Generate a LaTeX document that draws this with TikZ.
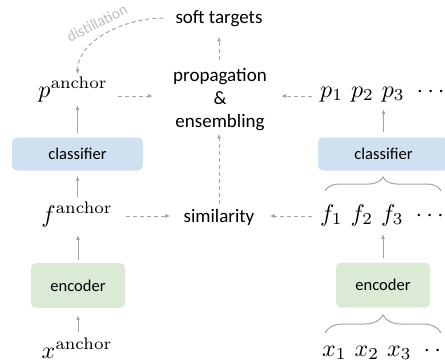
\documentclass[tikz,border=0pt]{standalone}
\usepackage[no-math]{fontspec}
\usepackage{graphicx}
\newfontfamily\carlito{Carlito}
\usetikzlibrary{arrows.meta,decorations.pathreplacing}
\definecolor{arrgray}{RGB}{163,163,163}
\definecolor{clsblue}{RGB}{207,224,241}
\definecolor{encgreen}{RGB}{218,234,212}
\definecolor{distgray}{RGB}{190,190,190}
\newcommand{\mybigmath}[1]{\scalebox{2.4}{$#1$}}
\begin{document}
\begin{tikzpicture}[x=1pt,y=-1pt,
  lbl/.style={font=\carlito\fontsize{19}{23}\selectfont, inner sep=2pt},
  boxlbl/.style={font=\carlito\fontsize{16.5}{20}\selectfont, rounded corners=5pt, inner sep=0pt},
  clsbox/.style={boxlbl, fill=clsblue, minimum width=131pt, minimum height=33pt},
  encbox/.style={boxlbl, fill=encgreen, minimum width=94pt, minimum height=45pt},
  mth/.style={inner sep=2pt, anchor=base},
  arr/.style={draw=arrgray, line width=1pt, -{Latex[length=5pt,width=4pt]}},
  darr/.style={arr, dash pattern=on 4pt off 3pt},
  brc/.style={draw=arrgray, line width=1pt, decorate, decoration={brace, amplitude=#1}},
]
\useasboundingbox (0,0) rectangle (445,362);

% middle column
\node[lbl, anchor=base] (soft) at (219,23) {soft targets};
\node[lbl, align=center] (prop) at (220,100) {propagation\\\&\\ensembling};
\node[lbl, anchor=base] (sim) at (219,222) {similarity};

% left column
\node[mth] (pA) at (73,97) {\mybigmath{p^{\mathrm{anchor}}}};
\node[clsbox] (clsL) at (77.5,154) {classifier};
\node[mth] (fA) at (77,222) {\mybigmath{f^{\mathrm{anchor}}}};
\node[encbox] (encL) at (78,285.5) {encoder};
\node[mth] (xA) at (77,358) {\mybigmath{x^{\mathrm{anchor}}}};

% right column
\node[mth, anchor=base west] (prow) at (318,97) {\mybigmath{p_1\ p_2\ p_3\ \cdots}};
\node[clsbox] (clsR) at (383.5,154) {classifier};
\node[mth, anchor=base west] (frow) at (318,221) {\mybigmath{f_1\ f_2\ f_3\ \cdots}};
\node[encbox] (encR) at (383,285) {encoder};
\node[mth, anchor=base west] (xrow) at (320,356) {\mybigmath{x_1\ x_2\ x_3\ \cdots}};

% solid arrows
\draw[arr, shorten <=4pt, shorten >=1pt] (clsL.north) -- (clsL.north |- pA.south);
\draw[arr, shorten <=2pt, shorten >=5pt] (clsL.south |- fA.north) -- (clsL.south);
\draw[arr, shorten <=3pt, shorten >=6pt] (encL.north) -- (encL.north |- fA.south);
\draw[arr, shorten <=3pt, shorten >=7pt] (encL.south |- xA.north) -- (encL.south);
\draw[arr, shorten <=5pt, shorten >=5pt] (clsR.north) -- (clsR.north |- prow.south);
\draw[arr, shorten <=4pt, shorten >=6pt] (encR.north) -- (encR.north |- frow.south);

% braces
\draw[brc=14pt] (325,191) -- (441,191);
\draw[brc=18pt] (325,333) -- (441,333);

% dashed arrows
\draw[darr, shorten <=8pt, shorten >=18pt] (pA.east |- 0,96) -- (prop.west |- 0,96);
\draw[darr, shorten <=6pt, shorten >=12pt] (prow.west |- 0,96) -- (prop.east |- 0,96);
\draw[darr, shorten <=11pt, shorten >=11pt] (fA.east |- 0,216) -- (sim.west |- 0,216);
\draw[darr, shorten <=6pt, shorten >=13pt] (frow.west |- 0,216) -- (sim.east |- 0,216);
\draw[darr, shorten <=3pt] (sim.north) -- (sim.north |- prop.south);
\draw[darr, shorten <=7pt, shorten >=8pt] (soft.south |- prop.north) -- (soft.south);

% distillation
\draw[darr, shorten <=10pt, shorten >=0pt] (soft.west) .. controls +(-52,0) and +(0,-32) .. (clsL.north |- pA.north);
\node[font=\carlito\fontsize{15.5}{18}\selectfont, text=distgray, rotate=27, inner sep=0pt] (dist) at (97,23) {distillation};
\end{tikzpicture}
\end{document}
